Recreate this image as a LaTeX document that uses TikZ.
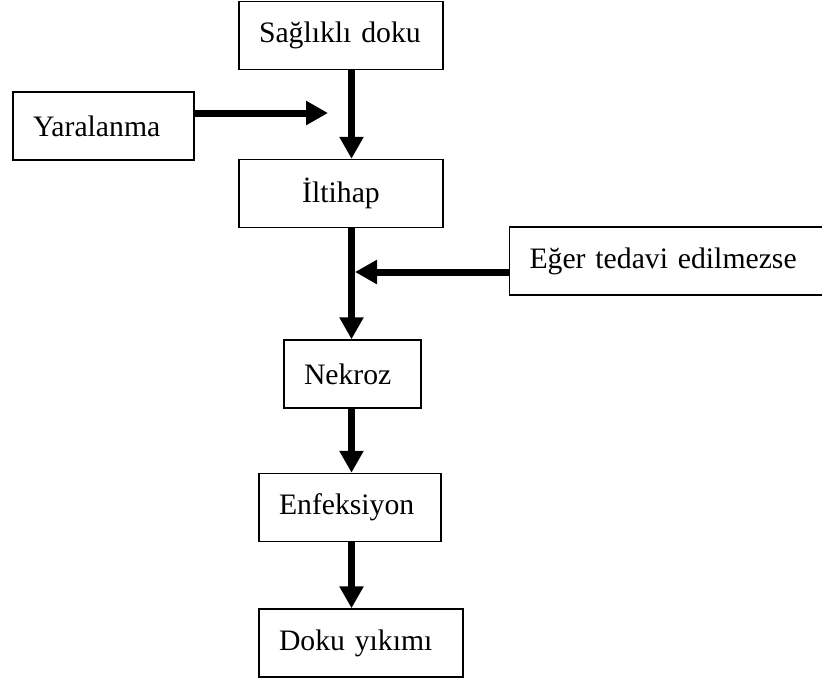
\documentclass[tikz,border=0pt]{standalone}
\usepackage{fontspec}
\setmainfont{Liberation Serif}
\usetikzlibrary{arrows.meta}

\begin{document}
\begin{tikzpicture}[
    x=0.5pt, y=-0.5pt,
    every node/.style={font=\fontsize{14.85}{18}\selectfont},
    stage/.style={draw, line width=0.75pt, inner xsep=10pt, inner ysep=0pt, minimum height=34pt, align=left},
    flow/.style={-{Triangle[length=11pt, width=11.5pt]}, line width=3.5pt}
]
    \useasboundingbox (0,0) rectangle (822,681);

    % Boxes
    \node[stage, text width=82pt] (saglikli) at (341,35.5) {Sağlıklı doku};
    \node[stage, text width=70.5pt] (yaralanma) at (103.5,126) {Yaralanma};
    \node[stage, text width=82pt, align=center] (iltihap) at (341,193.5) {İltihap};
    \node[stage, text width=137pt] (eger) at (666.5,261) {Eğer tedavi edilmezse};
    \node[stage, text width=48.5pt] (nekroz) at (352.5,374) {Nekroz};
    \node[stage, text width=71pt] (enfeksiyon) at (350,507.5) {Enfeksiyon};
    \node[stage, text width=82pt] (doku) at (361,643) {Doku yıkımı};

    % Helper points
    \coordinate (spine) at (351.5,0);
    \coordinate (yaraTip) at (328,113);
    \coordinate (egerTip) at (355,272);

    % Arrows
    \draw[flow] (saglikli.south -| spine) -- (iltihap.north -| spine);
    \draw[flow] (yaralanma.east |- yaraTip) -- (yaraTip);
    \draw[flow] (iltihap.south -| spine) -- (nekroz.north -| spine);
    \draw[flow] (eger.west |- egerTip) -- (egerTip);
    \draw[flow] (nekroz.south -| spine) -- (enfeksiyon.north -| spine);
    \draw[flow] (enfeksiyon.south -| spine) -- (doku.north -| spine);
\end{tikzpicture}
\end{document}
